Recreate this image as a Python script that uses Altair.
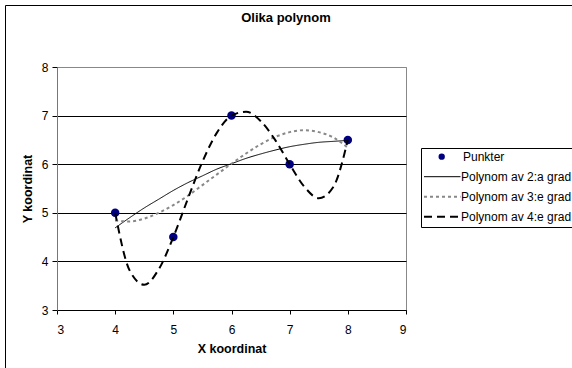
import altair as alt
import pandas as pd

# Observed points
PX = [4, 5, 6, 7, 8]
PY = [5.0, 4.5, 7.0, 6.0, 6.5]

# Trendline curves, sampled along x
XF = [4.0, 4.25, 4.5, 4.75, 5.0, 5.25, 5.5, 5.75, 6.0,
      6.25, 6.5, 6.75, 7.0, 7.25, 7.5, 7.75, 8.0]
DEG2 = [4.69, 4.90, 5.10, 5.28, 5.46, 5.62, 5.76, 5.90, 6.01,
        6.12, 6.21, 6.29, 6.36, 6.41, 6.45, 6.47, 6.49]
DEG3 = [4.84, 4.82, 4.88, 5.00, 5.16, 5.35, 5.57, 5.79, 6.01,
        6.22, 6.41, 6.56, 6.66, 6.70, 6.66, 6.55, 6.34]
DEG4 = [5.00, 3.81, 3.52, 3.84, 4.50, 5.29, 6.05, 6.65, 7.00,
        7.08, 6.89, 6.50, 6.00, 5.54, 5.30, 5.53, 6.50]

NAMES = ["Punkter", "Polynom av 2:a grad", "Polynom av 3:e grad", "Polynom av 4:e grad"]
X_TICKS = [3, 4, 5, 6, 7, 8, 9]
Y_TICKS = [3, 4, 5, 6, 7, 8]

FONT = "Liberation Sans"
W, H = 349, 243

line_styles = [
    dict(color="black", strokeWidth=1, strokeDash=[1, 0]),
    dict(color="#888888", strokeWidth=2, strokeDash=[3, 3]),
    dict(color="black", strokeWidth=2, strokeDash=[8, 5]),
]

x_enc = alt.X(
    "x:Q",
    scale=alt.Scale(domain=[3, 9], nice=False, zero=False),
    axis=alt.Axis(
        values=X_TICKS, format="d", title="X koordinat", grid=False,
        domainColor="black", tickColor="black", tickSize=4,
        labelFont=FONT, labelFontSize=12, labelColor="black", labelPadding=10,
        titleFont=FONT, titleFontSize=12.5, titleFontWeight="bold",
        titleColor="black", titlePadding=7,
    ),
)
y_enc = alt.Y(
    "y:Q",
    scale=alt.Scale(domain=[3, 8], nice=False, zero=False),
    axis=alt.Axis(
        values=Y_TICKS, format="d", title="Y koordinat",
        grid=True,
        gridColor={"condition": {"test": "datum.value == 8", "value": "#888888"},
                   "value": "black"},
        gridOpacity=1, gridWidth=1,
        domainColor="#777777", tickColor="black", tickSize=5,
        labelFont=FONT, labelFontSize=12, labelColor="black", labelPadding=4,
        titleFont=FONT, titleFontSize=12.5, titleFontWeight="bold",
        titleColor="black", titlePadding=7,
    ),
)

one = pd.DataFrame({"k": [0]})

# Outer chart frame (stroke only)
frame = alt.Chart(one).mark_rect(fillOpacity=0, stroke="black", strokeWidth=1).encode(
    x=alt.value(-51.5), x2=alt.value(640), y=alt.value(-61.5), y2=alt.value(400)
)

# Chart title
title = alt.Chart(pd.DataFrame({"t": ["Olika polynom"]})).mark_text(
    font=FONT, fontSize=13, fontWeight="bold", color="black",
    align="center", baseline="middle",
).encode(x=alt.value(229), y=alt.value(-49), text="t:N")

pts_df = pd.DataFrame({"x": PX, "y": PY})
points = alt.Chart(pts_df).mark_circle(size=72, color="#000080", opacity=1).encode(
    x=x_enc, y=y_enc
)

layers = [frame, title, points]
for vals, st in zip([DEG2, DEG3, DEG4], line_styles):
    df = pd.DataFrame({"x": XF, "y": vals})
    layers.append(
        alt.Chart(df).mark_line(interpolate="monotone", **st).encode(x="x:Q", y="y:Q")
    )

# Legend box
layers.append(
    alt.Chart(one).mark_rect(fill="white", stroke="black", strokeWidth=1).encode(
        x=alt.value(364.5), x2=alt.value(640), y=alt.value(81.5), y2=alt.value(160.5)
    )
)
row_y = [89.7, 109.7, 129.7, 149.7]
layers.append(
    alt.Chart(one).mark_circle(size=40, color="#000080", opacity=1).encode(
        x=alt.value(384.7), y=alt.value(row_y[0])
    )
)
for i, st in enumerate(line_styles):
    layers.append(
        alt.Chart(one).mark_rule(**st).encode(
            x=alt.value(367), x2=alt.value(403.5), y=alt.value(row_y[i + 1])
        )
    )
for i, name in enumerate(NAMES):
    layers.append(
        alt.Chart(pd.DataFrame({"t": [name]})).mark_text(
            font=FONT, fontSize=12, color="black", align="left", baseline="middle"
        ).encode(x=alt.value(406 if i == 0 else 404), y=alt.value(row_y[i]), text="t:N")
    )

chart = alt.layer(*layers).properties(
    width=W, height=H,
    autosize=alt.AutoSizeParams(type="none"),
    padding={"left": 57, "top": 67, "right": 166, "bottom": 58},
    background="white",
).configure_view(stroke="#888888", strokeWidth=1, fill="white")

chart.save("out.html", embed_options={"renderer": "svg", "actions": False})
